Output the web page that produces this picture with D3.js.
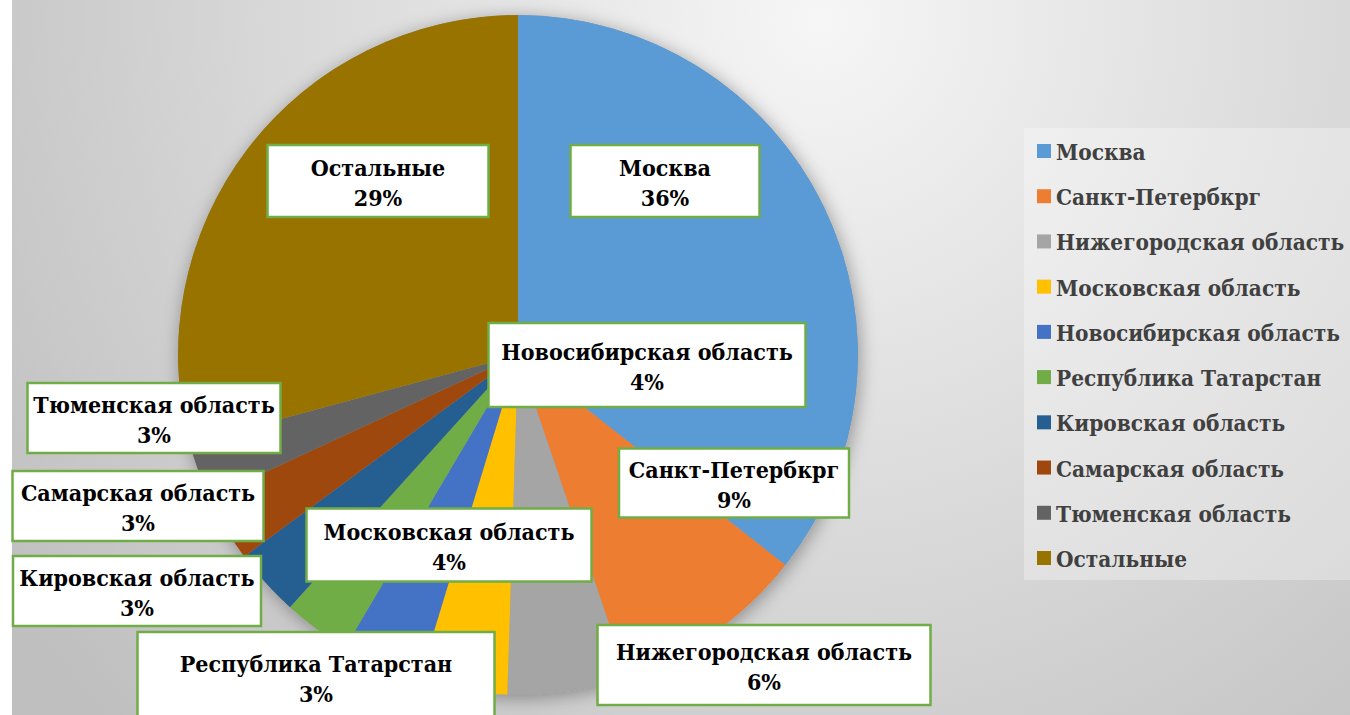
<!DOCTYPE html>
<html>
<head>
<meta charset="utf-8">
<script src="https://cdn.jsdelivr.net/npm/d3@7"></script>
<style>
  html, body { margin: 0; padding: 0; background: #fff; }
  svg { display: block; }
  svg text { font-family: 'DejaVu Serif Condensed', 'DejaVu Serif', serif; font-stretch: condensed; font-weight: bold; }
</style>
</head>
<body>
<div id="chart"></div>
<script>
// data
const regions = ['Москва', 'Санкт-Петербкрг', 'Нижегородская область', 'Московская область',
  'Новосибирская область', 'Республика Татарстан', 'Кировская область', 'Самарская область',
  'Тюменская область', 'Остальные'];
const shares = [35.6, 9.2, 5.7, 4.2, 3.8, 3.2, 3.2, 3.2, 2.7, 29.2];
const colors = ['#5b9bd5', '#ed7d31', '#a5a5a5', '#ffc000', '#4472c4', '#70ad47',
  '#255e91', '#9e480e', '#636363', '#997300'];

// hand-placed label boxes (center x, center y, width, height), same order as regions
const labelBoxes = [
  [665, 181, 189, 72], [734, 483, 230, 69], [764, 665, 333, 80], [449, 545, 285, 73],
  [647, 365, 317, 84], [316, 677, 357, 90], [137, 591, 248, 70], [138, 506, 251, 70],
  [154, 418, 253, 70], [378, 181, 221, 72]
];

const width = 1350, height = 715;
const cx = 518, cy = 355, r = 340;

const svg = d3.select('#chart').append('svg')
  .attr('width', width)
  .attr('height', height);

const defs = svg.append('defs');
const bg = defs.append('radialGradient')
  .attr('id', 'bg')
  .attr('gradientUnits', 'userSpaceOnUse')
  .attr('cx', 820).attr('cy', 20).attr('r', 1000);
bg.append('stop').attr('offset', 0).attr('stop-color', '#f6f6f6');
bg.append('stop').attr('offset', 1).attr('stop-color', '#bfbfbf');

const shadow = defs.append('filter').attr('id', 'shadow')
  .attr('x', -0.2).attr('y', -0.2).attr('width', 1.4).attr('height', 1.4);
shadow.append('feDropShadow')
  .attr('dx', 2).attr('dy', 3).attr('stdDeviation', 9)
  .attr('flood-color', '#000').attr('flood-opacity', 0.35);

svg.append('rect')
  .attr('x', 12).attr('y', 0)
  .attr('width', width - 12).attr('height', height)
  .attr('fill', 'url(#bg)');

const pie = d3.pie().sort(null).value(d => d);
const arc = d3.arc().innerRadius(0).outerRadius(r);
const arcs = pie(shares);

const g = svg.append('g').attr('transform', `translate(${cx},${cy})`);

g.append('circle').attr('r', r).attr('fill', '#999').attr('filter', 'url(#shadow)');

g.selectAll('path.slice')
  .data(arcs)
  .join('path')
  .attr('class', 'slice')
  .attr('d', arc)
  .attr('fill', (d, i) => colors[i]);

// data labels
const lab = svg.selectAll('g.lab')
  .data(arcs)
  .join('g')
  .attr('class', 'lab')
  .attr('transform', (d, i) => `translate(${labelBoxes[i][0]},${labelBoxes[i][1]})`);

lab.append('rect')
  .attr('x', (d, i) => -labelBoxes[i][2] / 2)
  .attr('y', (d, i) => -labelBoxes[i][3] / 2)
  .attr('width', (d, i) => labelBoxes[i][2])
  .attr('height', (d, i) => labelBoxes[i][3])
  .attr('fill', '#fff')
  .attr('stroke', '#70ad47')
  .attr('stroke-width', 2.5);

lab.append('text')
  .attr('text-anchor', 'middle')
  .attr('font-size', 23)
  .attr('fill', '#000')
  .call(t => t.append('tspan').attr('x', 0).attr('y', -5).text((d, i) => regions[i]))
  .call(t => t.append('tspan').attr('x', 0).attr('y', 25).text(d => Math.round(d.data) + '%'));

// legend
const legend = svg.append('g');
legend.append('rect')
  .attr('x', 1024).attr('y', 128)
  .attr('width', 330).attr('height', 452)
  .attr('fill', '#fff').attr('fill-opacity', 0.3);

const rowY = d3.scalePoint().domain(regions).range([151, 558]);

const items = legend.selectAll('g.item')
  .data(regions)
  .join('g')
  .attr('class', 'item')
  .attr('transform', d => `translate(1037,${rowY(d)})`);

items.append('rect')
  .attr('x', 0).attr('y', -7)
  .attr('width', 14).attr('height', 14)
  .attr('fill', (d, i) => colors[i]);

items.append('text')
  .attr('x', 19).attr('y', 9)
  .attr('font-size', 22.4)
  .attr('fill', '#404040')
  .text(d => d);
</script>
</body>
</html>
